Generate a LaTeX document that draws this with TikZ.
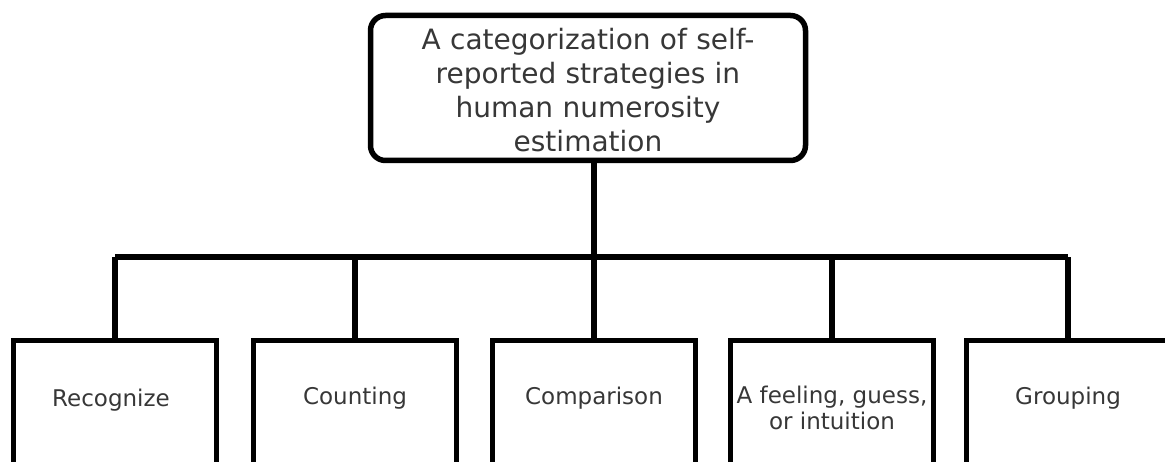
\documentclass[tikz,border=0pt]{standalone}
\usepackage{fontspec}
\setmainfont{DejaVu Sans}
\usetikzlibrary{positioning}
\definecolor{labelgray}{RGB}{55,55,55}
\tikzset{
	wire/.style = {line width=5.5pt},
	rootbox/.style = {draw, line width=5.5pt, rounded corners=15pt,
		minimum width=435pt, minimum height=145pt},
	roottext/.style = {text width=425pt, align=center, text=labelgray,
		font=\fontsize{28}{34}\selectfont},
	catbox/.style = {draw, line width=5.5pt, anchor=north,
		minimum width=203pt, minimum height=170pt},
	cattext/.style = {text=labelgray, align=center, font=\fontsize{23}{26}\selectfont}
}
\begin{document}
\begin{tikzpicture}[x=1pt, y=-1pt]
	\useasboundingbox (0,0) rectangle (1165,462);
	\clip (0,0) rectangle (1165,462);
	% top of the tree
	\node[rootbox] (root) at (588,88) {};
	\node[roottext] at ([yshift=-2pt]root.center) {A categorization of self-\\reported strategies in\\human numerosity\\estimation};
	
	% the five categories
	\node[catbox] (rec) at (115,338) {};
	\node[catbox] (cnt) at (355,338) {};
	\node[catbox] (cmp) at (594,338) {};
	\node[catbox] (feel) at (832,338) {};
	\node[catbox] (grp) at (1068,338) {};
	
	\node[cattext] at ([xshift=-4pt,yshift=-62pt]rec.north) {Recognize};
	\node[cattext] at ([yshift=-60pt]cnt.north) {Counting};
	\node[cattext] at ([yshift=-60pt]cmp.north) {Comparison};
	\node[cattext] at ([yshift=-70pt]feel.north) {A feeling, guess,\\or intuition};
	\node[cattext] at ([yshift=-60pt]grp.north) {Grouping};
	
	% connectors
	\coordinate (bus) at (0,257);
	\draw[wire] (rec.north |- bus) -- (grp.north |- bus);
	\draw[wire] (root.south -| cmp.north) -- (cmp.north);
	\foreach \n in {rec, cnt, feel, grp}
		\draw[wire] (\n.north) -- (\n.north |- bus);
\end{tikzpicture}
\end{document}
